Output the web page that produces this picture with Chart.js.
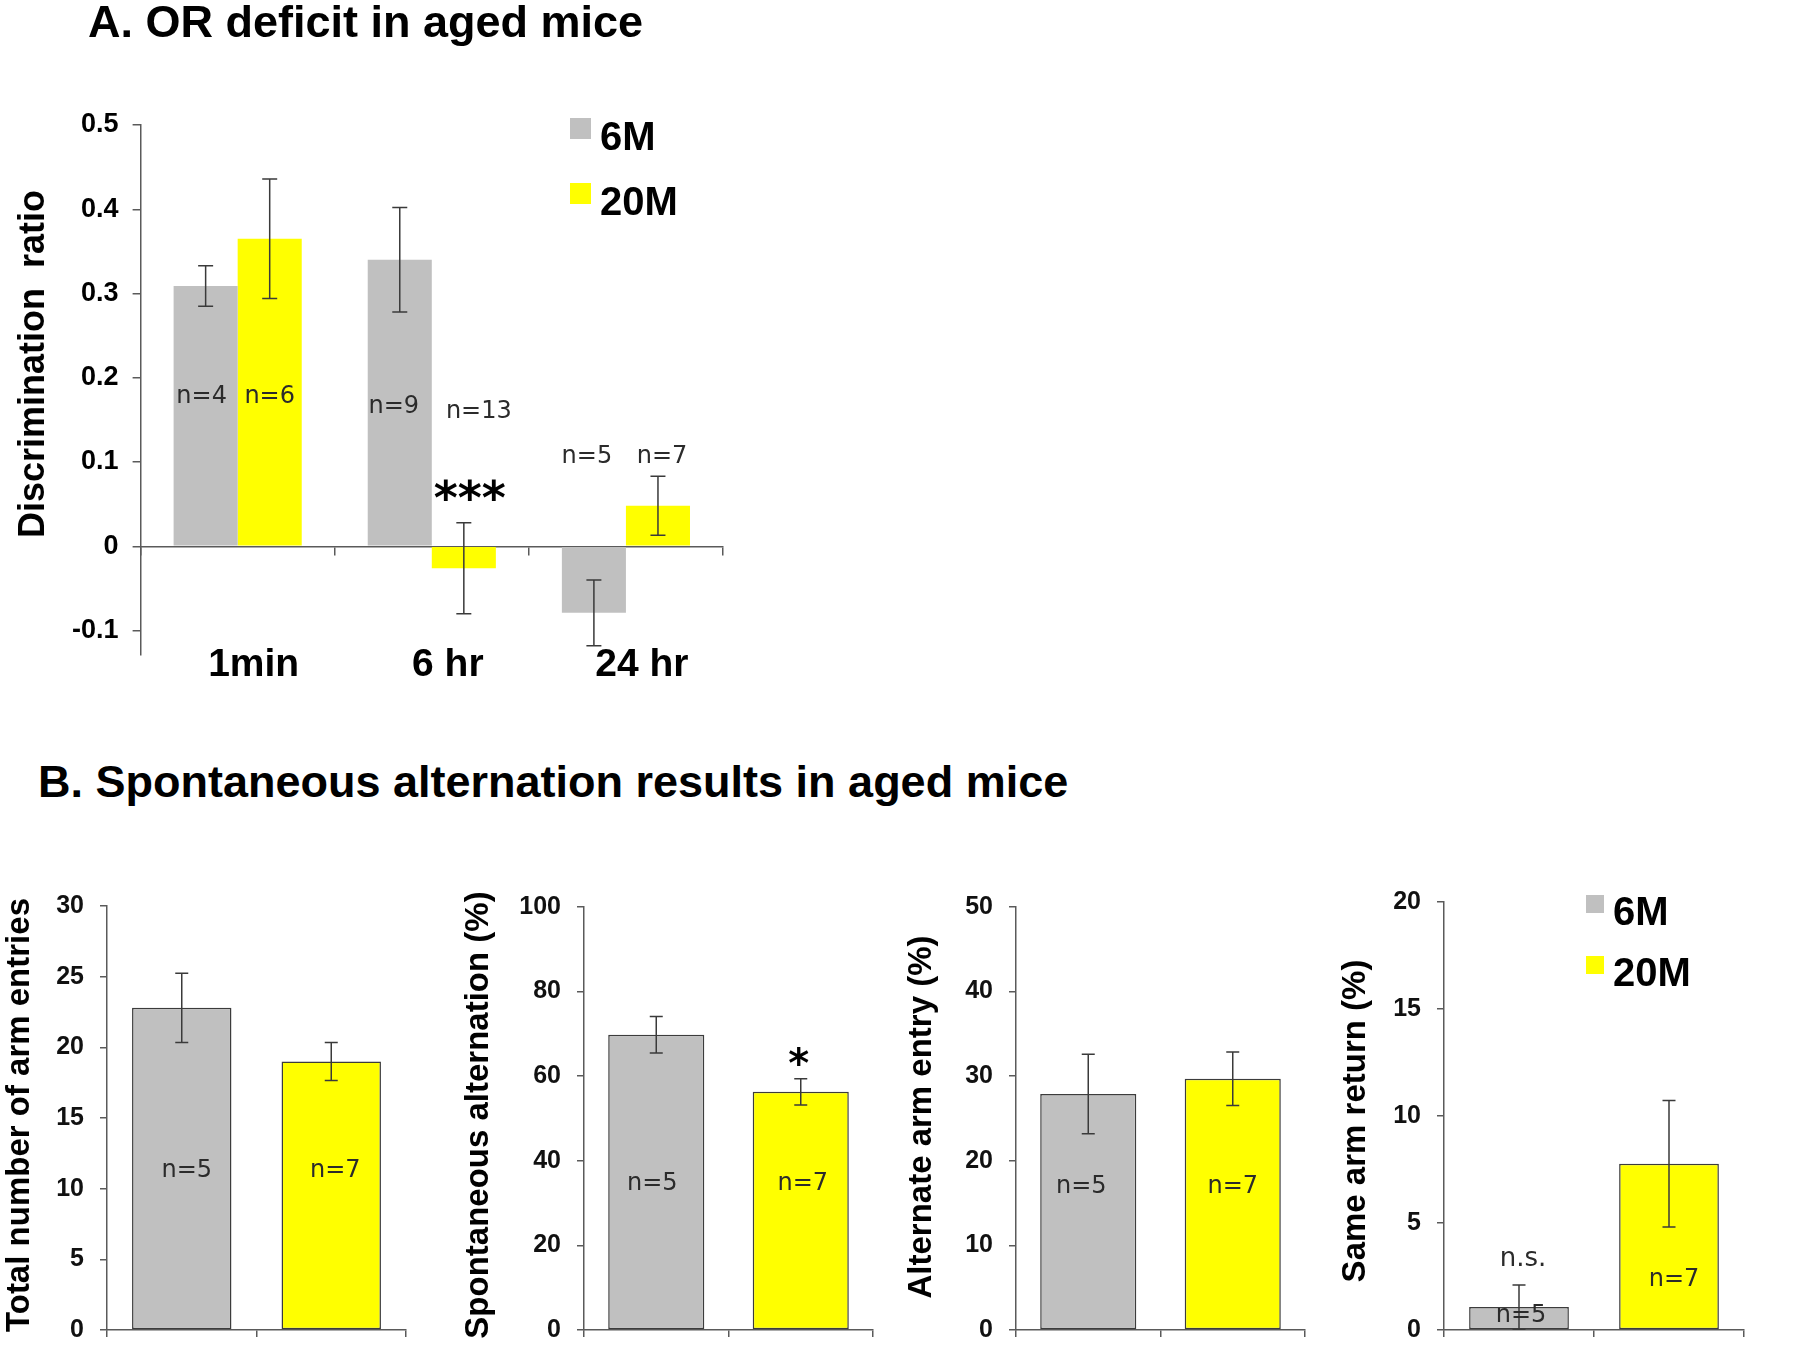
<!DOCTYPE html>
<html>
<head>
<meta charset="utf-8">
<script src="https://cdn.jsdelivr.net/npm/chart.js"></script>
<style>
  body { margin: 0; background: #fff; width: 1794px; height: 1356px; position: relative; overflow: hidden; }
  canvas { position: absolute; }
  .titulo { position: absolute; font-family: "Liberation Sans", Arial, sans-serif; font-weight: bold; color: #000; line-height: 1; white-space: nowrap; }
</style>
</head>
<body>
<canvas id="graficoA" width="780" height="720" style="left:0;top:0"></canvas>
<canvas id="graficoB1" width="440" height="506" style="left:0;top:855px"></canvas>
<canvas id="graficoB2" width="440" height="506" style="left:440px;top:855px"></canvas>
<canvas id="graficoB3" width="440" height="506" style="left:880px;top:855px"></canvas>
<canvas id="graficoB4" width="474" height="506" style="left:1320px;top:855px"></canvas>
<div class="titulo" style="left:88px;top:-1px;font-size:45px">A. OR deficit in aged mice</div>
<div class="titulo" style="left:38px;top:759px;font-size:45px">B. Spontaneous alternation results in aged mice</div>
<script>
// panel A: object recognition
const timePoints = ["1min", "6 hr", "24 hr"]
const groups = ["6M", "20M"]
const ratio6M = [0.309, 0.340, -0.079]
const ratio20M = [0.365, -0.026, 0.048]
const ratioErr6M = [0.024, 0.062, 0.039]
const ratioErr20M = [0.071, 0.054, 0.035]
const ratioTicks = [-0.1, 0, 0.1, 0.2, 0.3, 0.4, 0.5]
const sizesA6M = [4, 9, 5]
const sizesA20M = [6, 13, 7]

// panel B: Y-maze
const sizesB = [5, 7]
const armEntries = [22.8, 19.0]
const armEntriesErr = [2.45, 1.35]
const armEntriesTicks = [0, 5, 10, 15, 20, 25, 30]
const spontAlt = [69.8, 56.3]
const spontAltErr = [4.3, 3.1]
const spontAltTicks = [0, 20, 40, 60, 80, 100]
const altArm = [27.9, 29.7]
const altArmErr = [4.7, 3.15]
const altArmTicks = [0, 10, 20, 30, 40, 50]
const sameArm = [1.07, 7.77]
const sameArmErr = [1.03, 2.96]
const sameArmTicks = [0, 5, 10, 15, 20]

const GRAY = "#c0c0c0"
const YELLOW = "#ffff00"
const AXIS = "#5a5a5a"
const FONT = '"Liberation Sans", Arial, sans-serif'

Chart.defaults.font.family = FONT

const errorBars = {
  id: "errorBars",
  afterDatasetsDraw(chart, args, o) {
    const ctx = chart.ctx
    const y = chart.scales.y
    ctx.save()
    ctx.strokeStyle = "#3a3a3a"
    ctx.lineWidth = 1.5
    chart.data.datasets.forEach((ds, i) => {
      const meta = chart.getDatasetMeta(i)
      ds.data.forEach((v, j) => {
        const x = meta.data[j].x
        const top = y.getPixelForValue(v + ds.errors[j])
        const bot = y.getPixelForValue(v - ds.errors[j])
        ctx.beginPath()
        ctx.moveTo(x, top); ctx.lineTo(x, bot)
        ctx.moveTo(x - o.cap / 2, top); ctx.lineTo(x + o.cap / 2, top)
        ctx.moveTo(x - o.cap / 2, bot); ctx.lineTo(x + o.cap / 2, bot)
        ctx.stroke()
      })
    })
    ctx.restore()
  }
}

const notes = {
  id: "notes",
  afterDatasetsDraw(chart, args, o) {
    const ctx = chart.ctx
    ctx.save()
    ctx.textAlign = "center"
    ctx.textBaseline = "middle"
    o.items.forEach(n => {
      const bar = chart.getDatasetMeta(n.ds).data[n.i]
      ctx.font = n.star ? `bold ${n.size}px "DejaVu Sans", sans-serif` : `${n.size || 24}px "DejaVu Sans", sans-serif`
      ctx.fillStyle = n.star ? "#000" : "#2b2b2b"
      ctx.fillText(n.text, bar.x + (n.dx || 0), chart.scales.y.getPixelForValue(n.y))
    })
    ctx.restore()
  }
}

// category names sit under the plot, not on the zero line
const catLabels = {
  id: "catLabels",
  afterDraw(chart, args, o) {
    if (!o.y) return
    const ctx = chart.ctx
    ctx.save()
    ctx.font = `bold ${o.size}px ${FONT}`
    ctx.fillStyle = "#000"
    ctx.textAlign = "center"
    ctx.textBaseline = "middle"
    chart.data.labels.forEach((l, i) => {
      ctx.fillText(l, chart.scales.x.getPixelForValue(i) + o.dx, o.y)
    })
    ctx.restore()
  }
}

const yTitle = {
  id: "yTitle",
  afterDraw(chart, args, o) {
    const ctx = chart.ctx
    ctx.save()
    ctx.translate(o.x, o.y)
    ctx.rotate(-Math.PI / 2)
    ctx.font = `bold ${o.size}px ${FONT}`
    ctx.fillStyle = "#000"
    ctx.textAlign = "center"
    ctx.textBaseline = "middle"
    ctx.fillText(o.text, 0, 0)
    ctx.restore()
  }
}

const boxLegend = {
  id: "boxLegend",
  afterDraw(chart, args, o) {
    if (!o.box) return
    const ctx = chart.ctx
    ctx.save()
    ctx.font = `bold ${o.size}px ${FONT}`
    ctx.textBaseline = "alphabetic"
    ctx.textAlign = "left"
    groups.forEach((g, i) => {
      const top = o.y + i * o.gap
      ctx.fillStyle = [GRAY, YELLOW][i]
      ctx.fillRect(o.x, top, o.box, o.box)
      ctx.fillStyle = "#000"
      ctx.fillText(g, o.textX, top + o.base)
    })
    ctx.restore()
  }
}

const fixedTicks = (list) => (scale) => { scale.ticks = list.map(v => ({ value: v })) }

new Chart(document.getElementById("graficoA"), {
  type: "bar",
  data: {
    labels: timePoints,
    datasets: [
      { label: "6M", data: ratio6M, errors: ratioErr6M, backgroundColor: GRAY },
      { label: "20M", data: ratio20M, errors: ratioErr20M, backgroundColor: YELLOW }
    ]
  },
  options: {
    responsive: false,
    animation: false,
    layout: { padding: { left: 0, top: 125, right: 57, bottom: 65 } },
    datasets: { bar: { categoryPercentage: 0.66, barPercentage: 1 } },
    scales: {
      x: {
        position: { y: 0 },
        offset: true,
        grid: { offset: true, drawOnChartArea: false, tickLength: 8, color: AXIS, lineWidth: 1.5 },
        border: { color: AXIS, width: 1.5 },
        ticks: { display: false }
      },
      y: {
        min: -0.129,
        max: 0.5,
        afterBuildTicks: fixedTicks(ratioTicks),
        afterFit: s => { s.width = 140.6 },
        grid: { drawOnChartArea: false, tickLength: 8, color: AXIS, lineWidth: 1.5 },
        border: { color: AXIS, width: 1.5 },
        ticks: {
          font: { size: 27, weight: "bold" }, color: "#000", padding: 14,
          callback: v => v === 0 ? "0" : v.toFixed(1)
        }
      }
    },
    plugins: {
      legend: { display: false },
      tooltip: { enabled: false },
      errorBars: { cap: 15 },
      notes: {
        items: [
          { ds: 0, i: 0, y: 0.178, text: "n=" + sizesA6M[0], dx: -4 },
          { ds: 1, i: 0, y: 0.178, text: "n=" + sizesA20M[0] },
          { ds: 0, i: 1, y: 0.166, text: "n=" + sizesA6M[1], dx: -6 },
          { ds: 1, i: 1, y: 0.160, text: "n=" + sizesA20M[1], dx: 15 },
          { ds: 1, i: 1, y: 0.052, text: "***", dx: 6, size: 46, star: true },
          { ds: 0, i: 2, y: 0.106, text: "n=" + sizesA6M[2], dx: -7 },
          { ds: 1, i: 2, y: 0.106, text: "n=" + sizesA20M[2], dx: 4 }
        ]
      },
      catLabels: { y: 665, dx: 16, size: 39 },
      yTitle: { text: "Discrimination  ratio", x: 34, y: 364, size: 36 },
      boxLegend: { x: 570, y: 118, box: 21, gap: 65, textX: 600, base: 32, size: 40 }
    }
  },
  plugins: [errorBars, notes, catLabels, yTitle, boxLegend]
})

const panelB = (id, values, errors, ticks, p) => {
  new Chart(document.getElementById(id), {
    type: "bar",
    data: {
      labels: groups,
      datasets: [{
        data: values, errors: errors,
        backgroundColor: [GRAY, YELLOW],
        borderColor: "#3c3c3c", borderWidth: 1.5, borderSkipped: false
      }]
    },
    options: {
      responsive: false,
      animation: false,
      layout: { padding: { left: 0, top: p.top, right: p.right, bottom: p.bottom } },
      datasets: { bar: { categoryPercentage: 0.665, barPercentage: 1 } },
      scales: {
        x: {
          offset: true,
          grid: { offset: true, drawOnChartArea: false, tickLength: 7, color: AXIS, lineWidth: 1.5 },
          border: { color: AXIS, width: 1.5 },
          ticks: { display: false },
          afterFit: s => { s.height = 0 }
        },
        y: {
          min: ticks[0],
          max: ticks[ticks.length - 1],
          afterBuildTicks: fixedTicks(ticks),
          afterFit: s => { s.width = p.axisX },
          grid: { drawOnChartArea: false, tickLength: 7, color: AXIS, lineWidth: 1.5 },
          border: { color: AXIS, width: 1.5 },
          ticks: { font: { size: 25, weight: "bold" }, color: "#111", padding: 16 }
        }
      },
      plugins: {
        legend: { display: false },
        tooltip: { enabled: false },
        errorBars: { cap: 13 },
        notes: { items: p.notes },
        catLabels: {},
        yTitle: { text: p.title, x: p.titleX, y: p.titleY, size: 33 },
        boxLegend: p.legend || {}
      }
    },
    plugins: [errorBars, notes, catLabels, yTitle, boxLegend]
  })
}

panelB("graficoB1", armEntries, armEntriesErr, armEntriesTicks, {
  axisX: 107, top: 51, right: 34, bottom: 22,
  title: "Total number of arm entries", titleX: 20, titleY: 260,
  notes: [
    { ds: 0, i: 0, y: 11.3, text: "n=" + sizesB[0], dx: 5 },
    { ds: 0, i: 1, y: 11.3, text: "n=" + sizesB[1], dx: 4 }
  ]
})

panelB("graficoB2", spontAlt, spontAltErr, spontAltTicks, {
  axisX: 144, top: 52, right: 7, bottom: 18,
  title: "Spontaneous alternation (%)", titleX: 39, titleY: 260,
  notes: [
    { ds: 0, i: 0, y: 34.5, text: "n=" + sizesB[0], dx: -4 },
    { ds: 0, i: 1, y: 34.5, text: "n=" + sizesB[1], dx: 2 },
    { ds: 0, i: 1, y: 62.3, text: "*", dx: -2, size: 40, star: true }
  ]
})

panelB("graficoB3", altArm, altArmErr, altArmTicks, {
  axisX: 136, top: 52, right: 15, bottom: 18,
  title: "Alternate arm entry (%)", titleX: 42, titleY: 262,
  notes: [
    { ds: 0, i: 0, y: 16.9, text: "n=" + sizesB[0], dx: -7 },
    { ds: 0, i: 1, y: 16.9, text: "n=" + sizesB[1] }
  ]
})

panelB("graficoB4", sameArm, sameArmErr, sameArmTicks, {
  axisX: 124, top: 47, right: 50, bottom: 19,
  title: "Same arm return (%)", titleX: 36, titleY: 266,
  notes: [
    { ds: 0, i: 0, y: 3.29, text: "n.s.", dx: 4, size: 26 },
    { ds: 0, i: 0, y: 0.66, text: "n=" + sizesB[0], dx: 2 },
    { ds: 0, i: 1, y: 2.36, text: "n=" + sizesB[1], dx: 5 }
  ],
  legend: { x: 266, y: 40, box: 18, gap: 61, textX: 293, base: 30, size: 40 }
})
</script>
</body>
</html>
